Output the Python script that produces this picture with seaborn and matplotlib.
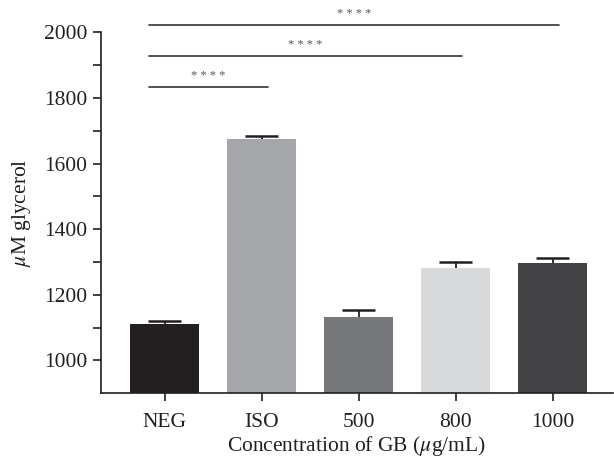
import numpy as np
import pandas as pd
import matplotlib
matplotlib.use("Agg")
import matplotlib.pyplot as plt
import matplotlib.ticker as mticker
import seaborn as sns

# ─── DATA ─────────────────────────────────────────────────────────────────────
groups    = ["NEG", "ISO", "500", "800", "1000"]
glycerol  = [1110, 1675, 1131, 1283, 1298]
sem       = [11, 9, 23, 18, 13]
colors    = ["#231f20", "#a5a6a9", "#77787b", "#d8d9db", "#434345"]

# significance brackets: (start group, end group, y level)
sig_pairs  = [("NEG", "ISO", 1833), ("NEG", "800", 1928), ("NEG", "1000", 2021)]
sig_labels = ["* * * *", "* * * *", "* * * *"]
# ──────────────────────────────────────────────────────────────────────────────

sns.set_theme(style="ticks")
plt.rcParams["font.family"] = ["Liberation Serif", "DejaVu Serif"]
plt.rcParams["mathtext.fontset"] = "stix"

df = pd.DataFrame({"group": groups, "glycerol": glycerol})

fig = plt.figure(figsize=(6.14, 4.62), dpi=100)
ax = fig.add_axes([0.164, 0.149, 0.834, 0.781])

sns.barplot(data=df, x="group", y="glycerol", hue="group", palette=colors,
            order=groups, hue_order=groups, errorbar=None, width=0.71,
            legend=False, ax=ax, saturation=1, linewidth=0, zorder=2)

# upper-only error bars (stem + cap), drawn behind the bars
xpos = np.arange(len(groups))
tops = np.array(glycerol) + np.array(sem)
ax.vlines(xpos, glycerol, tops, color="#231f20", lw=1.3, zorder=1)
ax.hlines(tops, xpos - 0.17, xpos + 0.17, color="#231f20", lw=1.8, zorder=1)

# significance lines
idx = {g: i for i, g in enumerate(groups)}
for (g1, g2, yl), lab in zip(sig_pairs, sig_labels):
    x1 = idx[g1] - 0.165
    x2 = idx[g2] + 0.07
    ax.plot([x1, x2], [yl, yl], color="#333333", lw=1.2, clip_on=False)
    ax.text((x1 + x2) / 2, yl + 16, lab, ha="center", va="bottom",
            fontsize=9, color="#555555", clip_on=False)

ax.set_ylim(900, 2000)
ax.set_xlim(-0.66, 4.62)
ax.yaxis.set_major_locator(mticker.FixedLocator([1000, 1200, 1400, 1600, 1800, 2000]))
ax.yaxis.set_minor_locator(mticker.FixedLocator([1100, 1300, 1500, 1700, 1900]))
ax.tick_params(axis="both", which="both", direction="out", length=6, width=1.2,
               color="#231f20", labelsize=15.5, labelcolor="#231f20")
ax.tick_params(axis="x", pad=8)

for s in ["left", "bottom"]:
    ax.spines[s].set_linewidth(1.2)
    ax.spines[s].set_color("#231f20")
sns.despine(ax=ax)

ax.set_xlabel("Concentration of GB ($\\mu$g/mL)", fontsize=15.5, color="#231f20", labelpad=2)
ax.set_ylabel("$\\mu$M glycerol", fontsize=15.5, color="#231f20", labelpad=8)

plt.savefig("out.png", dpi=100)
plt.close()
